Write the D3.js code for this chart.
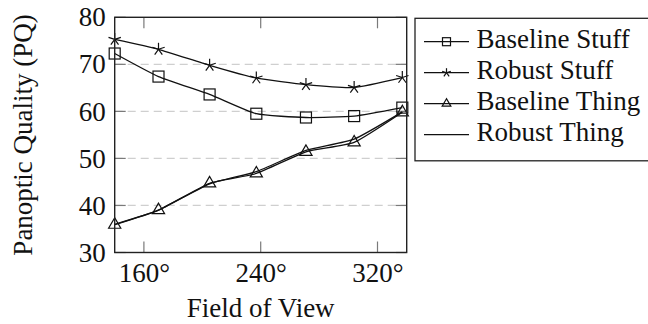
<!DOCTYPE html>
<html>
<head>
<meta charset="utf-8">
<script src="https://cdn.jsdelivr.net/npm/d3@7"></script>
<style>
  body { margin: 0; background: #fff; overflow: hidden; }
  text { font-family: "Liberation Serif", serif; fill: #111; }
</style>
</head>
<body>
<div class="chart-holder"></div>
<script>
let fov = [140, 170, 205, 237, 271, 304, 337]
let baselineStuff = [72.3, 67.4, 63.6, 59.5, 58.7, 59.0, 60.8]
let robustStuff = [75.3, 73.2, 69.8, 67.1, 65.7, 65.1, 67.2]
let baselineThing = [35.9, 39.0, 44.7, 46.8, 51.4, 53.4, 59.8]
let robustThing = [36.0, 39.0, 44.6, 47.2, 51.7, 54.1, 59.9]
let xTicks = [160, 240, 320]
let yTicks = [30, 40, 50, 60, 70, 80]
let seriesNames = ['Baseline Stuff', 'Robust Stuff', 'Baseline Thing', 'Robust Thing']
let seriesMarks = ['square', 'star', 'triangle', 'none']

let width = 648, height = 324
let margin = { top: 17.3, bottom: 71.5, left: 114.7, right: 241.3 }
let fontSize = 27
let fontFamily = '"Liberation Serif", serif'

let svg = d3.select('.chart-holder')
    .append('svg')
        .attr('width', width)
        .attr('height', height)
        .style('display', 'block')

let x = d3.scaleLinear()
    .domain([140, 340])
    .range([margin.left, width - margin.right])

let y = d3.scaleLinear()
    .domain([30, 80])
    .range([height - margin.bottom, margin.top])

// grid lines
svg.append('g').attr('class', 'grid')
    .selectAll('line')
    .data(yTicks.filter(d => d > 30 && d < 80))
    .enter()
    .append('line')
        .attr('x1', x.range()[0]).attr('x2', x.range()[1])
        .attr('y1', d => y(d)).attr('y2', d => y(d))
        .attr('stroke', '#cfcfcf')
        .attr('stroke-width', 1.3)
        .attr('stroke-dasharray', '8,5')

// tick marks on all four sides, pointing inward
let tickLen = 11
let ticks = svg.append('g').attr('class', 'ticks')
    .attr('stroke', '#7a7a7a').attr('stroke-width', 1.2)
xTicks.forEach(t => {
    ticks.append('line').attr('x1', x(t)).attr('x2', x(t))
        .attr('y1', y.range()[0]).attr('y2', y.range()[0] - tickLen)
    ticks.append('line').attr('x1', x(t)).attr('x2', x(t))
        .attr('y1', y.range()[1]).attr('y2', y.range()[1] + tickLen)
})
yTicks.forEach(t => {
    ticks.append('line').attr('x1', x.range()[0]).attr('x2', x.range()[0] + tickLen)
        .attr('y1', y(t)).attr('y2', y(t))
    ticks.append('line').attr('x1', x.range()[1]).attr('x2', x.range()[1] - tickLen)
        .attr('y1', y(t)).attr('y2', y(t))
})

// axes labels via d3 axis, no ticks or domain line of their own
let xAxis = svg.append('g')
    .attr('transform', 'translate(0,' + y.range()[0] + ')')
    .call(d3.axisBottom(x).tickValues(xTicks).tickSize(0).tickPadding(10).tickFormat(d => d + '°'))
let yAxis = svg.append('g')
    .attr('transform', 'translate(' + x.range()[0] + ',0)')
    .call(d3.axisLeft(y).tickValues(yTicks).tickSize(0).tickPadding(9))
;[xAxis, yAxis].forEach(a => {
    a.attr('font-family', fontFamily).attr('font-size', fontSize)
    a.select('.domain').remove()
    a.selectAll('text').attr('fill', '#111')
})

svg.append('text')
    .attr('x', (x.range()[0] + x.range()[1]) / 2)
    .attr('y', 317)
    .attr('text-anchor', 'middle')
    .attr('font-family', fontFamily)
    .attr('font-size', fontSize)
    .text('Field of View')

svg.append('text')
    .attr('transform', 'translate(32,' + (y.range()[0] + y.range()[1]) / 2 + ') rotate(-90)')
    .attr('text-anchor', 'middle')
    .attr('font-family', fontFamily)
    .attr('font-size', fontSize)
    .text('Panoptic Quality (PQ)')

// series
let allSeries = [baselineStuff, robustStuff, baselineThing, robustThing]
let line = d3.line()
    .x((d, i) => x(fov[i]))
    .y(d => y(d))
    .curve(d3.curveCardinal.tension(0.5))

function drawMark(g, type, cx, cy, r) {
    if (type === 'square') {
        g.append('rect')
            .attr('x', cx - r).attr('y', cy - r)
            .attr('width', 2 * r).attr('height', 2 * r)
            .attr('fill', 'none').attr('stroke', '#111').attr('stroke-width', 1.2)
    } else if (type === 'star') {
        for (let k = 0; k < 5; k++) {
            let a = -Math.PI / 2 + k * 2 * Math.PI / 5
            g.append('line')
                .attr('x1', cx).attr('y1', cy)
                .attr('x2', cx + r * Math.cos(a)).attr('y2', cy + r * Math.sin(a))
                .attr('stroke', '#111').attr('stroke-width', 1.2)
        }
    } else if (type === 'triangle') {
        let pts = [[cx, cy - r], [cx - r * 0.87, cy + r * 0.5], [cx + r * 0.87, cy + r * 0.5]]
        g.append('polygon')
            .attr('points', pts.map(p => p.join(',')).join(' '))
            .attr('fill', 'none').attr('stroke', '#111').attr('stroke-width', 1.2)
    }
}

let markSize = { square: 5.5, star: 6.5, triangle: 7 }

allSeries.forEach((s, i) => {
    let g = svg.append('g').attr('class', 'series')
    g.append('path')
        .attr('d', line(s))
        .attr('fill', 'none')
        .attr('stroke', '#111')
        .attr('stroke-width', 1.3)
    if (seriesMarks[i] !== 'none') {
        s.forEach((v, j) => drawMark(g, seriesMarks[i], x(fov[j]), y(v), markSize[seriesMarks[i]]))
    }
})

// plot frame
svg.append('rect')
    .attr('x', x.range()[0]).attr('y', y.range()[1])
    .attr('width', x.range()[1] - x.range()[0])
    .attr('height', y.range()[0] - y.range()[1])
    .attr('fill', 'none').attr('stroke', '#222').attr('stroke-width', 1.4)

// legend (its right border runs off the page, as in the original)
let legend = svg.append('g').attr('class', 'legend')
legend.append('rect')
    .attr('x', 415).attr('y', 18.3)
    .attr('width', 245).attr('height', 142.5)
    .attr('fill', '#fff').attr('stroke', '#222').attr('stroke-width', 1.3)

let legendMarkSize = { square: 4, star: 4.5, triangle: 5 }
seriesNames.forEach((name, i) => {
    let ly = 41.7 + i * 31
    let row = legend.append('g')
    row.append('line')
        .attr('x1', 424).attr('x2', 469)
        .attr('y1', ly).attr('y2', ly)
        .attr('stroke', '#111').attr('stroke-width', 1.3)
    if (seriesMarks[i] !== 'none') drawMark(row, seriesMarks[i], 446.5, ly, legendMarkSize[seriesMarks[i]])
    row.append('text')
        .attr('x', 476.5).attr('y', ly + 6.5)
        .attr('font-family', fontFamily)
        .attr('font-size', fontSize)
        .text(name)
})
</script>
</body>
</html>
